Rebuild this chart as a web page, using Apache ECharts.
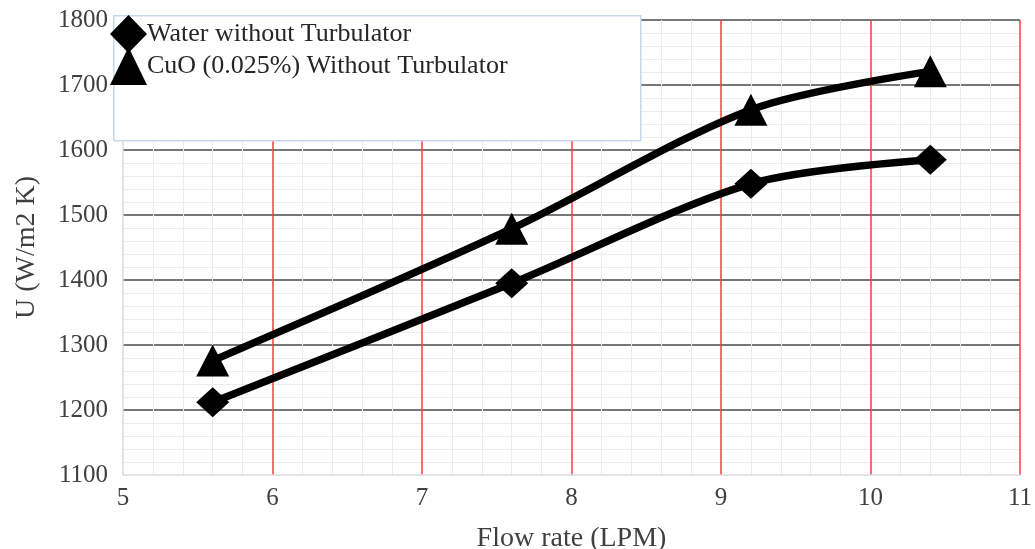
<!DOCTYPE html>
<html><head><meta charset="utf-8">
<script src="https://cdn.jsdelivr.net/npm/echarts@6/dist/echarts.min.js"></script>
<style>html,body{margin:0;padding:0;background:#fff}#c{width:1035px;height:549px}</style>
</head><body><div id="c"></div>
<script>
const flowRate = [5.6, 7.6, 9.2, 10.4];
const waterU = [1212, 1395, 1548, 1585];
const cuoU = [1276, 1479, 1662, 1721];
const seriesNames = ['Water without Turbulator', 'CuO (0.025%) Without Turbulator'];
const xTitle = 'Flow rate (LPM)';
const yTitle = 'U (W/m2 K)';

const font = 'Liberation Serif';
const chart = echarts.init(document.getElementById('c'));
chart.setOption({
  animation: false,
  textStyle: {fontFamily: font},
  grid: {left: 123, right: 15, top: 20, bottom: 74, outerBoundsMode: 'none', containLabel: false},
  graphic: [{
    type: 'rect', z: 50, left: 113, top: 15,
    shape: {width: 527, height: 125},
    style: {fill: '#fff', stroke: '#c9d6ee', lineWidth: 1.5}
  }],
  legend: {
    z: 60, left: 110, top: 15, orient: 'vertical', padding: 0,
    itemWidth: 37, itemHeight: 38, itemGap: -6,
    textStyle: {fontFamily: font, fontSize: 26, color: '#262626', padding: [4,0,0,-5]},
    data: [{name: seriesNames[0], icon: 'diamond'}, {name: seriesNames[1], icon: 'triangle'}]
  },
  xAxis: {
    type: 'value', min: 5, max: 11, interval: 1,
    name: xTitle, nameLocation: 'middle', nameGap: 50,
    nameTextStyle: {fontFamily: font, fontSize: 28, color: '#404040'},
    axisLine: {show: true, lineStyle: {color: '#d9d9d9', width: 1.5}},
    axisTick: {show: false},
    axisLabel: {fontFamily: font, fontSize: 25, color: '#404040', margin: 11},
    splitLine: {show: true, showMinLine: false, lineStyle: {color: '#ff3b3b', width: 1.5}},
    minorTick: {show: false, splitNumber: 5},
    minorSplitLine: {show: true, lineStyle: {color: '#ececec', width: 1}}
  },
  yAxis: {
    type: 'value', min: 1100, max: 1800, interval: 100,
    name: yTitle, nameLocation: 'middle', nameGap: 82,
    nameTextStyle: {fontFamily: font, fontSize: 28, color: '#404040'},
    axisLine: {show: true, lineStyle: {color: '#d9d9d9', width: 1.5}},
    axisTick: {show: false},
    axisLabel: {fontFamily: font, fontSize: 25, color: '#404040', margin: 15, formatter: v => String(v)},
    splitLine: {show: true, showMinLine: false, lineStyle: {color: '#4a4a4a', width: 1.5}},
    minorTick: {show: false, splitNumber: 5},
    minorSplitLine: {show: true, lineStyle: {color: '#ececec', width: 1}}
  },
  series: [
    {name: seriesNames[0], type: 'line', smooth: 0.3,
     data: flowRate.map((x, i) => [x, waterU[i]]),
     symbol: 'diamond', symbolSize: [33, 30],
     lineStyle: {color: '#000', width: 7.5}, itemStyle: {color: '#000'}},
    {name: seriesNames[1], type: 'line', smooth: 0.3,
     data: flowRate.map((x, i) => [x, cuoU[i]]),
     symbol: 'triangle', symbolSize: [33, 32],
     lineStyle: {color: '#000', width: 7.5}, itemStyle: {color: '#000'}}
  ]
});
</script></body></html>
